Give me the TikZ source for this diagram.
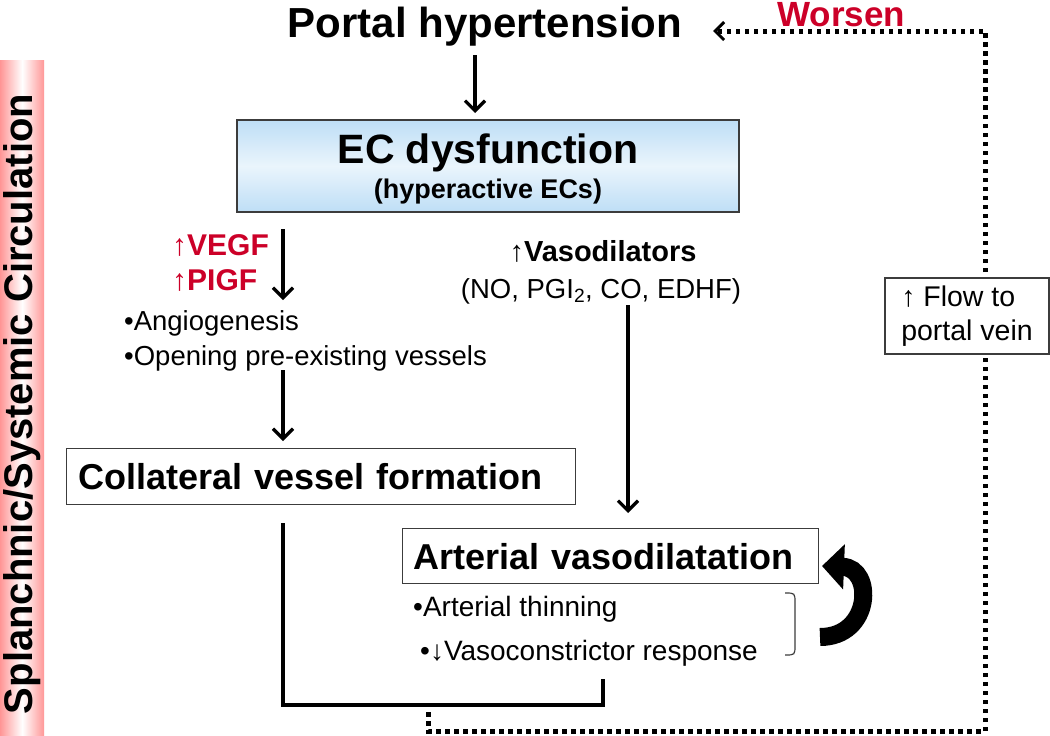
\documentclass[tikz,border=0pt]{standalone}
\usepackage{fontspec}
\setmainfont{Liberation Sans}
\usetikzlibrary{arrows.meta}
\definecolor{wred}{RGB}{204,0,40}
\definecolor{barpink}{RGB}{255,150,150}
\definecolor{ecblue}{RGB}{190,222,246}
\definecolor{ecmid}{RGB}{234,245,252}
\definecolor{boxgray}{RGB}{60,60,60}
\newcommand\fsz[1]{\fontsize{#1}{#1}\selectfont}
\begin{document}
\begin{tikzpicture}[x=1pt,y=-1pt,
  txt/.style={inner sep=0pt},
  arr/.style={line width=3.2pt,-{Straight Barb[length=10pt,width=20pt]}},
  box/.style={draw=boxgray,line width=1.3pt},
  dotline/.style={line width=5pt,dash pattern=on 4.5pt off 4.5pt},
  barsh/.style={left color=barpink,right color=barpink,middle color=white},
  ecsh/.style={top color=ecblue,bottom color=ecblue,middle color=ecmid},
  bold/.style={font=\fsz{#1}\bfseries},
  reg/.style={font=\fsz{#1}}]
\useasboundingbox (0,0) rectangle (1050,736);
\fill[white] (0,0) rectangle (1050,736);

% side bar
\node[barsh,minimum width=44pt,minimum height=676pt,anchor=north west,inner sep=0pt] (bar) at (0,60) {};
\node[txt,rotate=90,bold=40] (bartxt) at (22,404) {Splanchnic/Systemic Circulation};

% dotted feedback loop
\coordinate (d0) at (428,712);
\coordinate (d1) at (428,731);
\coordinate (d2) at (985,731);
\coordinate (d3) at (985,31);
\coordinate (d4) at (713,31);
\draw[dotline,-{Straight Barb[length=9pt,width=18pt,line width=3pt]}] (d0) -- (d1) -- (d2) -- (d3) -- (d4);

% top
\node[txt,anchor=base,bold=42] (portal) at (485,37) {Portal hypertension};
\node[txt,anchor=base west,bold=35,text=wred] (worsen) at (777,27) {Worsen};

% EC box
\node[box,ecsh,minimum width=502pt,minimum height=92pt] (ec) at (488,166) {};
\node[txt,anchor=base,bold=41] (ect) at (488,163) {EC dysfunction};
\node[txt,anchor=base,bold=27] (ecs) at (488,198) {(hyperactive ECs)};
\coordinate (pa1) at (475,55);
\coordinate (pa2) at (475,113);
\draw[arr] (pa1) -- (pa2);

% left branch
\node[txt,anchor=base west,bold=30,text=wred] (vegf) at (172,255) {↑VEGF};
\node[txt,anchor=base west,bold=30,text=wred] (pigf) at (172,290) {↑PIGF};
\coordinate (la1) at (283,229);
\coordinate (la2) at (283,300);
\draw[arr] (la1) -- (la2);
\node[txt,anchor=base west,reg=27.5] (ang) at (124,330) {•Angiogenesis};
\node[txt,anchor=base west,reg=27.5] (opn) at (124,365) {•Opening pre-existing vessels};
\coordinate (lb1) at (283,370);
\coordinate (lb2) at (283,441);
\draw[arr] (lb1) -- (lb2);
\node[box,anchor=north west,minimum height=56pt,inner xsep=12pt,text width=485pt,align=left,bold=36] (coll) at (66,448) {Collateral vessel formation};

% right branch
\node[txt,anchor=base,bold=29] (vaso) at (603,261) {↑Vasodilators};
\node[txt,anchor=base,reg=27.5] (vasol) at (601,298) {(NO, PGI\textsubscript{2}, CO, EDHF)};
\coordinate (va1) at (628,305);
\coordinate (va2) at (628,513);
\draw[arr] (va1) -- (va2);
\node[box,anchor=north west,minimum height=55pt,inner xsep=11pt,text width=394pt,align=left,bold=36] (art) at (402,528) {Arterial vasodilatation};
\node[txt,anchor=base west,reg=28] (thin) at (413,616) {•Arterial thinning};
\node[txt,anchor=base west,reg=28] (resp) at (420,660) {•↓Vasoconstrictor response};

% small bracket
\draw[line width=1.2pt,boxgray] (785,593) .. controls (795,593) .. (795,603) -- (795,645) .. controls (795,655) .. (785,655);

% curved self arrow
\coordinate (ca1) at (820,637);
\coordinate (ca2) at (822,566);
\draw[line width=18pt,-{Triangle[length=22pt,width=44pt]}] (ca1) .. controls (872,637) and (874,568) .. (ca2);

% bottom joining bracket
\coordinate (b1) at (283,523);
\coordinate (b2) at (283,705);
\coordinate (b3) at (603,705);
\coordinate (b4) at (603,679);
\draw[line width=4pt,line join=miter] (b1) -- (b2) -- (b3) -- (b4);

% flow box
\node[box,fill=white,minimum width=164pt,minimum height=76pt,align=left,font=\fontsize{28.5}{34}\selectfont] (flow) at (967,316) {↑ Flow to\\portal vein};
\end{tikzpicture}
\end{document}
